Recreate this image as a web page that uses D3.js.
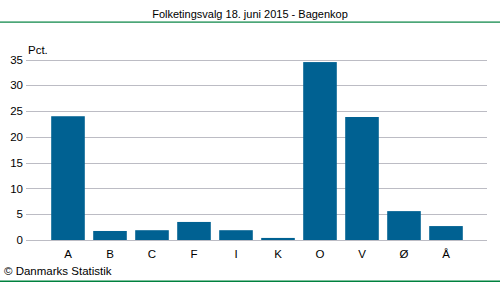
<!DOCTYPE html>
<html lang="da">
<head>
  <meta charset="UTF-8">
  <title>Folketingsvalg 18. juni 2015 - Bagenkop</title>
  <script src="https://d3js.org/d3.v7.min.js"></script>
  <style>
    body { margin: 0; background: #fff; }
    svg text { font-family: "Liberation Sans", Arial, sans-serif; fill: #000; }
  </style>
</head>
<body>
<svg id="chart" width="500" height="282"></svg>
<script>
  // Partier og stemmeandele (pct.)
  const partier = ["A", "B", "C", "F", "I", "K", "O", "V", "Ø", "Å"];
  const andele = [24.0, 1.75, 1.9, 3.5, 1.9, 0.4, 34.5, 23.85, 5.6, 2.7];
  const yTicks = [0, 5, 10, 15, 20, 25, 30, 35];

  const svg = d3.select("#chart");

  // Titel og grønne linjer
  svg.append("text")
     .attr("x", 250).attr("y", 18)
     .attr("text-anchor", "middle")
     .style("font-size", "11px")
     .text("Folketingsvalg 18. juni 2015 - Bagenkop");

  svg.append("rect").attr("x", 0).attr("y", 21.5).attr("width", 500).attr("height", 1.2).attr("fill", "#00813f");
  svg.append("rect").attr("x", 0).attr("y", 280.5).attr("width", 500).attr("height", 1.5).attr("fill", "#00813f");

  const x = d3.scaleBand()
              .domain(partier)
              .range([47, 467])
              .paddingInner(0.2)
              .paddingOuter(0.1);

  const y = d3.scaleLinear()
              .domain([0, 35])
              .range([240, 59.5]);

  // Gitterlinjer
  svg.append("g")
     .selectAll("line")
     .data(yTicks)
     .join("line")
       .attr("x1", 26).attr("x2", 487)
       .attr("y1", d => Math.round(y(d)) + 0.5)
       .attr("y2", d => Math.round(y(d)) + 0.5)
       .attr("stroke", "#bcbcc4")
       .attr("stroke-width", 1);

  // Y-akse
  const yAxis = d3.axisLeft(y).tickValues(yTicks).tickSize(0).tickPadding(3);
  svg.append("g")
     .attr("transform", "translate(26,0)")
     .call(yAxis)
     .call(g => g.select(".domain").remove())
     .selectAll("text")
       .style("font-size", "11.5px");

  svg.append("text")
     .attr("x", 28).attr("y", 54)
     .style("font-size", "11.5px")
     .text("Pct.");

  // Søjler
  svg.append("g")
     .selectAll("rect")
     .data(partier)
     .join("rect")
       .attr("x", d => x(d))
       .attr("width", x.bandwidth())
       .attr("y", (d, i) => y(andele[i]))
       .attr("height", (d, i) => y(0) - y(andele[i]))
       .attr("fill", "#006192");

  // X-akse
  const xAxis = d3.axisBottom(x).tickSize(0).tickPadding(10);
  svg.append("g")
     .attr("transform", "translate(0,240)")
     .call(xAxis)
     .call(g => g.select(".domain").remove())
     .selectAll("text")
       .style("font-size", "11.5px");

  svg.append("text")
     .attr("x", 4).attr("y", 275)
     .style("font-size", "11.5px")
     .text("© Danmarks Statistik");
</script>
</body>
</html>
